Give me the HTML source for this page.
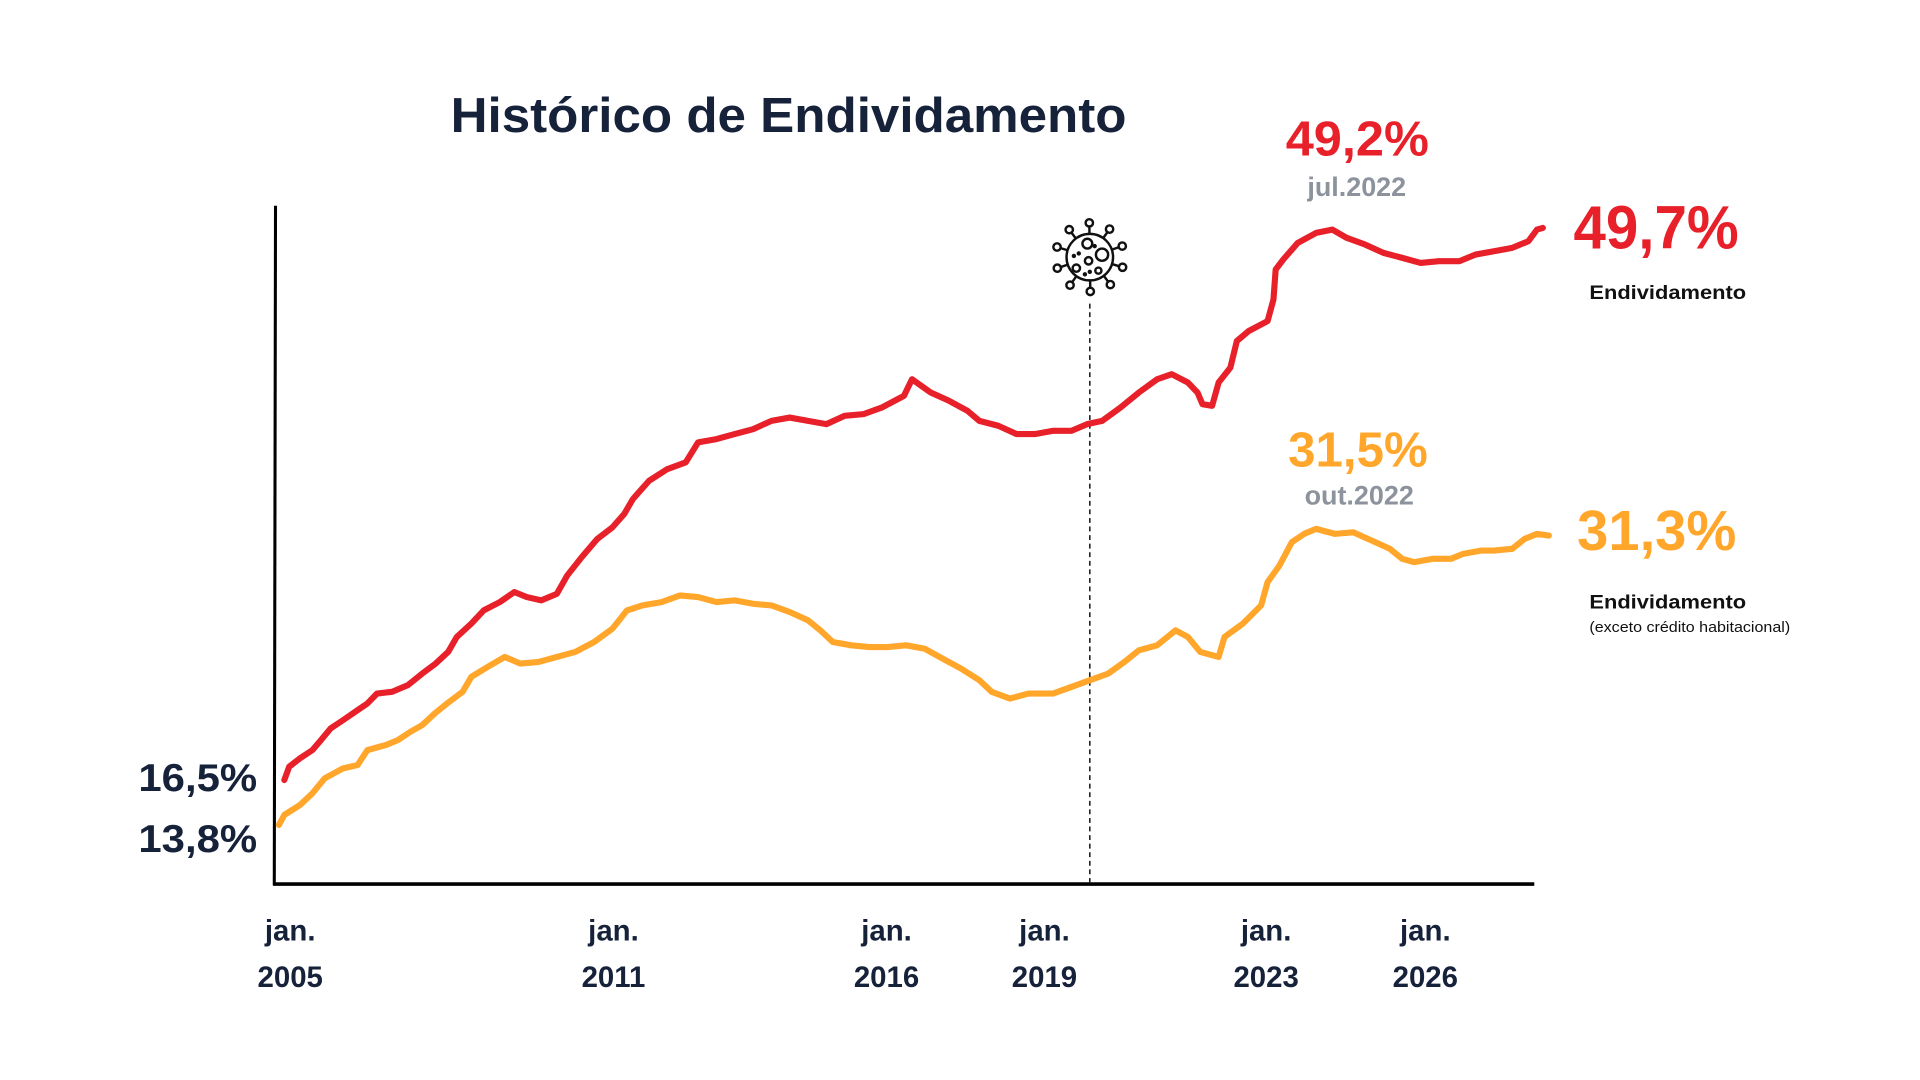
<!DOCTYPE html>
<html><head><meta charset="utf-8"><style>
html,body{margin:0;padding:0;background:#fff;}
svg{display:block;font-family:"Liberation Sans",sans-serif;}
</style></head><body>
<svg id="chart" width="1920" height="1080" viewBox="0 0 1568 882">
<rect width="1568" height="882" fill="#fff"/>
<text x="368" y="108" font-size="40" font-weight="700" fill="#16213a" textLength="552" lengthAdjust="spacingAndGlyphs">Histórico de Endividamento</text>
<line x1="225" y1="168" x2="224" y2="723" stroke="#000" stroke-width="2.5"/>
<line x1="223" y1="722" x2="1253" y2="722" stroke="#000" stroke-width="3"/>
<line x1="890" y1="248" x2="890" y2="722" stroke="#222" stroke-width="1.3" stroke-dasharray="4,3"/>
<g transform="translate(890,210)" fill="none" stroke="#111" stroke-width="2">
<circle r="19"/>
<g id="spikes"></g>
<circle cx="-2" cy="-11" r="4"/><circle cx="10" cy="-2" r="5"/><circle cx="-1" cy="3" r="3"/><circle cx="-11" cy="9" r="3"/><circle cx="7" cy="11" r="2.5"/>
<circle cx="-9" cy="-3" r="0.8" fill="#111"/><circle cx="-13" cy="-1" r="0.8" fill="#111"/><circle cx="4" cy="-9" r="0.8" fill="#111"/><circle cx="0" cy="12" r="0.8" fill="#111"/><circle cx="-4" cy="14" r="0.8" fill="#111"/>
</g>
<g id="series"></g>
<text x="113" y="646" font-size="32" font-weight="700" fill="#16213a" textLength="97" lengthAdjust="spacingAndGlyphs">16,5%</text>
<text x="113" y="696" font-size="32" font-weight="700" fill="#16213a" textLength="97" lengthAdjust="spacingAndGlyphs">13,8%</text>
<text x="1050" y="127" font-size="40" font-weight="700" fill="#e8202a" textLength="117" lengthAdjust="spacingAndGlyphs">49,2%</text>
<text x="1108" y="160" font-size="22" font-weight="700" fill="#8c939c" text-anchor="middle">jul.2022</text>
<text x="1285" y="203" font-size="50" font-weight="700" fill="#e8202a" textLength="135" lengthAdjust="spacingAndGlyphs">49,7%</text>
<text x="1298" y="244" font-size="16" font-weight="700" fill="#111" textLength="128" lengthAdjust="spacingAndGlyphs">Endividamento</text>
<text x="1052" y="381" font-size="40" font-weight="700" fill="#ffa62b" textLength="114" lengthAdjust="spacingAndGlyphs">31,5%</text>
<text x="1110" y="412" font-size="22" font-weight="700" fill="#8c939c" text-anchor="middle">out.2022</text>
<text x="1288" y="449" font-size="46" font-weight="700" fill="#ffa62b" textLength="130" lengthAdjust="spacingAndGlyphs">31,3%</text>
<text x="1298" y="497" font-size="16" font-weight="700" fill="#111" textLength="128" lengthAdjust="spacingAndGlyphs">Endividamento</text>
<text x="1298" y="516" font-size="12" fill="#111" textLength="164" lengthAdjust="spacingAndGlyphs">(exceto crédito habitacional)</text>
<g id="xticks"></g>
</svg>
<script>
const redYears=[2005.05,2005.14,2005.34,2005.57,2005.73,2005.91,2006.14,2006.41,2006.59,2006.77,2007.05,2007.34,2007.61,2007.86,2008.09,2008.25,2008.52,2008.75,2009.05,2009.32,2009.55,2009.82,2010.11,2010.30,2010.57,2010.86,2011.14,2011.36,2011.52,2011.82,2012.16,2012.50,2012.73,2013.07,2013.41,2013.75,2014.09,2014.43,2014.77,2015.11,2015.45,2015.80,2016.14,2016.55,2016.70,2017.05,2017.39,2017.73,2017.95,2018.30,2018.64,2018.98,2019.32,2019.66,2019.95,2020.23,2020.57,2020.91,2021.25,2021.52,2021.82,2022.00,2022.09,2022.27,2022.39,2022.61,2022.73,2022.95,2023.30,2023.41,2023.45,2023.59,2023.86,2024.20,2024.50,2024.77,2025.11,2025.45,2025.80,2026.14,2026.48,2026.86,2027.16,2027.50,2027.84,2028.14,2028.30,2028.41];
const redValues=[16.5,17.3,17.8,18.3,18.9,19.6,20.1,20.7,21.1,21.7,21.8,22.2,22.9,23.5,24.2,25.1,25.9,26.7,27.2,27.8,27.5,27.3,27.7,28.8,29.9,31.0,31.7,32.5,33.4,34.5,35.2,35.6,36.8,37.0,37.3,37.6,38.1,38.3,38.1,37.9,38.4,38.5,38.9,39.6,40.6,39.8,39.3,38.7,38.1,37.8,37.3,37.3,37.5,37.5,37.9,38.1,38.9,39.8,40.6,40.9,40.4,39.8,39.1,39.0,40.4,41.3,42.9,43.5,44.1,45.4,47.2,47.8,48.8,49.4,49.6,49.1,48.7,48.2,47.9,47.6,47.7,47.7,48.1,48.3,48.5,48.9,49.6,49.7];
const orangeYears=[2004.95,2005.05,2005.34,2005.57,2005.80,2006.14,2006.41,2006.59,2006.93,2007.16,2007.39,2007.61,2007.84,2008.07,2008.36,2008.52,2008.82,2009.14,2009.43,2009.77,2010.11,2010.45,2010.80,2011.14,2011.41,2011.70,2012.05,2012.39,2012.73,2013.07,2013.41,2013.75,2014.09,2014.43,2014.77,2015.00,2015.23,2015.57,2015.91,2016.25,2016.59,2016.93,2017.27,2017.61,2017.95,2018.18,2018.52,2018.86,2019.32,2019.66,2020.00,2020.34,2020.64,2020.91,2021.25,2021.59,2021.82,2022.05,2022.39,2022.50,2022.84,2023.18,2023.30,2023.52,2023.75,2023.98,2024.20,2024.55,2024.89,2025.23,2025.57,2025.80,2026.02,2026.36,2026.70,2026.93,2027.27,2027.50,2027.84,2028.07,2028.30,2028.52];
const orangeValues=[13.8,14.4,15.0,15.7,16.6,17.2,17.4,18.3,18.6,18.9,19.4,19.8,20.5,21.1,21.8,22.7,23.3,23.9,23.5,23.6,23.9,24.2,24.8,25.6,26.7,27.0,27.2,27.6,27.5,27.2,27.3,27.1,27.0,26.6,26.1,25.5,24.8,24.6,24.5,24.5,24.6,24.4,23.8,23.2,22.5,21.8,21.4,21.7,21.7,22.1,22.5,22.9,23.6,24.3,24.6,25.5,25.1,24.2,23.9,25.1,25.9,27.0,28.4,29.4,30.8,31.3,31.6,31.3,31.4,30.9,30.4,29.8,29.6,29.8,29.8,30.1,30.3,30.3,30.4,31.0,31.3,31.2];
const tickYears=["2005","2011","2016","2019","2023","2026"];
const tickLabelX=[237,501,724,853,1034,1164];

const NS="http://www.w3.org/2000/svg";
function xScale(t){return 230+(t-2005)*44;}
function yScale(v){return 637-(v-16.5)*13.58;}
function drawLine(years,vals,color,name){
  let d="";
  for(let i=0;i<years.length;i++){d+=(i?"L":"M")+xScale(years[i]).toFixed(1)+","+yScale(vals[i]).toFixed(1);}
  const p=document.createElementNS(NS,"path");
  p.setAttribute("d",d);p.setAttribute("fill","none");p.setAttribute("stroke",color);
  p.setAttribute("stroke-width","5");p.setAttribute("stroke-linejoin","round");p.setAttribute("stroke-linecap","round");
  
  
  document.getElementById("series").appendChild(p);
}
drawLine(orangeYears,orangeValues,"#ffa62b","orange-debt-line");
drawLine(redYears,redValues,"#e8202a","red-debt-line");

const xt=document.getElementById("xticks");
for(let i=0;i<tickYears.length;i++){
  const g=document.createElementNS(NS,"g");
  
  
  const t1=document.createElementNS(NS,"text");
  t1.setAttribute("x",tickLabelX[i]);t1.setAttribute("y",768);t1.setAttribute("text-anchor","middle");
  t1.setAttribute("font-size","24");t1.setAttribute("font-weight","700");t1.setAttribute("fill","#16213a");
  t1.textContent="jan.";
  const t2=document.createElementNS(NS,"text");
  t2.setAttribute("x",tickLabelX[i]);t2.setAttribute("y",806);t2.setAttribute("text-anchor","middle");
  t2.setAttribute("font-size","24");t2.setAttribute("font-weight","700");t2.setAttribute("fill","#16213a");
  t2.textContent=tickYears[i];
  g.appendChild(t1);g.appendChild(t2);xt.appendChild(g);
}
const sp=document.getElementById("spikes");
for(let k=0;k<10;k++){
  const a=k*Math.PI/5+0.3;
  const l=document.createElementNS(NS,"line");
  l.setAttribute("x1",19*Math.cos(a));l.setAttribute("y1",19*Math.sin(a));
  l.setAttribute("x2",26*Math.cos(a));l.setAttribute("y2",26*Math.sin(a));
  sp.appendChild(l);
  const c=document.createElementNS(NS,"circle");
  c.setAttribute("cx",28*Math.cos(a));c.setAttribute("cy",28*Math.sin(a));c.setAttribute("r","3");
  sp.appendChild(c);
}
</script>
</body></html>
